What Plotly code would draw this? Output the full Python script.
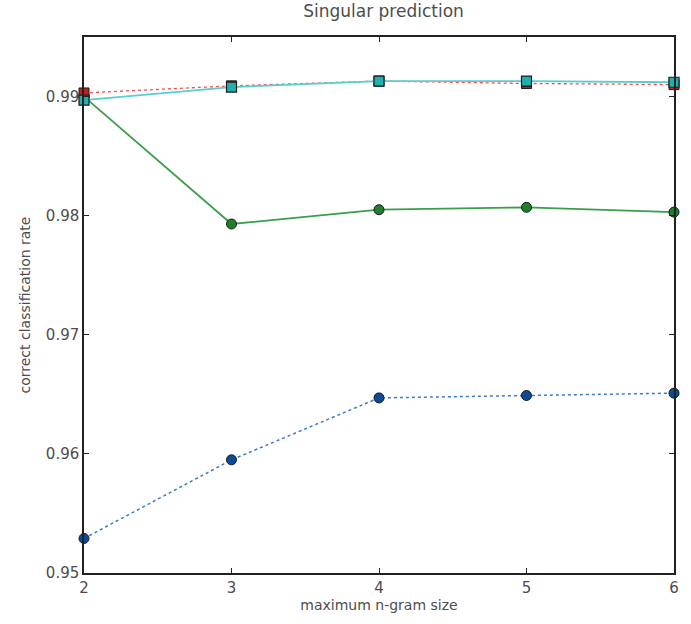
import plotly.graph_objects as go

# maximum n-gram size
ngram_size = [2, 3, 4, 5, 6]

# correct classification rate per method
rate_blue = [0.9529, 0.9595, 0.9647, 0.9649, 0.9651]
rate_green = [0.9900, 0.9793, 0.9805, 0.9807, 0.9803]
rate_red = [0.9903, 0.9909, 0.9913, 0.9911, 0.9910]
rate_cyan = [0.9897, 0.9908, 0.9913, 0.9913, 0.9912]

y_ticks = [0.95, 0.96, 0.97, 0.98, 0.99]
y_tick_text = ["0.95", "0.96", "0.97", "0.98", "0.99"]

text_color = "#4d4d4d"
font_family = "DejaVu Sans, sans-serif"

fig = go.Figure()

fig.add_trace(go.Scatter(
    x=ngram_size, y=rate_blue, mode="lines+markers",
    line=dict(color="#3a7acb", width=1.5, dash="dot"),
    marker=dict(symbol="circle", size=10, color="#0b4a96",
                line=dict(color="#1a1a1a", width=1)),
    cliponaxis=False,
))
fig.add_trace(go.Scatter(
    x=ngram_size, y=rate_green, mode="lines+markers",
    line=dict(color="#3a9e48", width=1.8),
    marker=dict(symbol="circle", size=10, color="#1d7f2c",
                line=dict(color="#1a1a1a", width=1)),
    cliponaxis=False,
))
fig.add_trace(go.Scatter(
    x=ngram_size, y=rate_red, mode="lines+markers",
    line=dict(color="#ee5050", width=1.3, dash="dot"),
    marker=dict(symbol="square", size=10, color="#c21f1f",
                line=dict(color="#1a1a1a", width=1)),
    cliponaxis=False,
))
fig.add_trace(go.Scatter(
    x=ngram_size, y=rate_cyan, mode="lines+markers",
    line=dict(color="#56cfcf", width=1.8),
    marker=dict(symbol="square", size=10, color="#1fb0b0",
                line=dict(color="#1a1a1a", width=1.2)),
    cliponaxis=False,
))

axis_common = dict(
    showgrid=False, zeroline=False, showline=True,
    linecolor="#222222", linewidth=1.5, mirror="ticks",
    ticks="inside", ticklen=5, tickwidth=1, tickcolor="#222222",
    tickfont=dict(family=font_family, size=15, color=text_color),
)

fig.update_layout(
    width=691, height=624,
    margin=dict(l=84, r=14, t=37, b=51),
    paper_bgcolor="white", plot_bgcolor="white",
    showlegend=False,
    title=dict(text="Singular prediction", x=0.555, xanchor="center",
               y=0.982, yanchor="middle",
               font=dict(family=font_family, size=17, color=text_color)),
    xaxis=dict(range=[2, 6], tickvals=ngram_size,
               title=dict(text="maximum n-gram size", standoff=2,
                          font=dict(family=font_family, size=14, color=text_color)),
               **axis_common),
    yaxis=dict(range=[0.95, 0.995], tickvals=y_ticks, ticktext=y_tick_text,
               title=dict(text="correct classification rate", standoff=12,
                          font=dict(family=font_family, size=14, color=text_color)),
               **axis_common),
)

fig.write_html("out.html")
